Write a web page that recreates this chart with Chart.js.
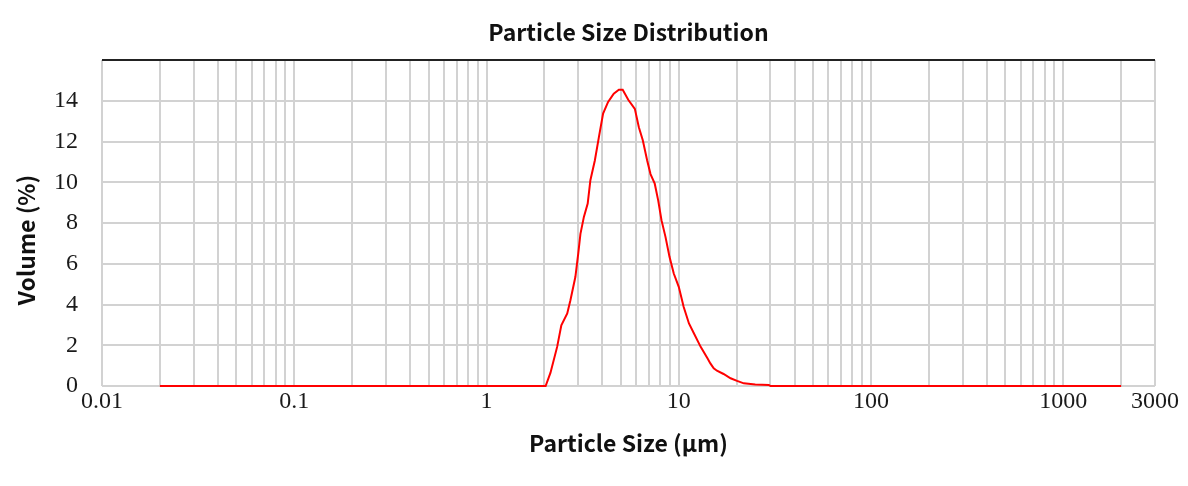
<!DOCTYPE html>
<html>
<head>
<meta charset="utf-8">
<script src="https://cdn.jsdelivr.net/npm/chart.js@4.4.1/dist/chart.umd.min.js"></script>
<style>
  html, body { margin: 0; padding: 0; background: #ffffff; }
  canvas { display: block; }
</style>
</head>
<body>
<canvas id="c" width="1188" height="486"></canvas>
<script>
// ---- data ----
const sizes = [0.02, 2.03, 2.15, 2.33, 2.45, 2.63, 2.73, 2.9, 3.0, 3.08, 3.21, 3.36, 3.47, 3.66, 3.84, 4.04, 4.29, 4.59, 4.88, 5.11, 5.46, 5.91, 6.2, 6.5, 6.85, 7.13, 7.5, 7.82, 8.13, 8.53, 8.95, 9.42, 10.0, 10.6, 11.3, 12.0, 13.0, 14.1, 14.6, 15.2, 15.8, 17.1, 18.6, 20.1, 21.8, 25.0, 29.4, 30.0, 2000];
const volume = [0, 0, 0.64, 1.92, 2.98, 3.56, 4.2, 5.36, 6.5, 7.47, 8.3, 8.95, 10.1, 11.07, 12.2, 13.37, 13.94, 14.35, 14.54, 14.54, 14.05, 13.6, 12.7, 12.06, 11.07, 10.4, 9.93, 9.1, 8.14, 7.32, 6.34, 5.52, 4.87, 3.89, 3.07, 2.58, 1.92, 1.36, 1.11, 0.87, 0.75, 0.59, 0.38, 0.25, 0.13, 0.07, 0.05, 0, 0];
const xGridValues = [0.01, 0.02, 0.03, 0.04, 0.05, 0.06, 0.07, 0.08, 0.09,
                     0.1, 0.2, 0.3, 0.4, 0.5, 0.6, 0.7, 0.8, 0.9,
                     1, 2, 3, 4, 5, 6, 7, 8, 9,
                     10, 20, 30, 40, 50, 60, 70, 80, 90,
                     100, 200, 300, 400, 500, 600, 700, 800, 900,
                     1000, 2000, 3000];
const xTickLabels = [0.01, 0.1, 1, 10, 100, 1000, 3000];
const yTickValues = [0, 2, 4, 6, 8, 10, 12, 14];
const yMax = 16;

const titleText = 'Particle Size Distribution';
const xTitle = 'Particle Size (\u00b5m)';
const yTitle = 'Volume (%)';

const tickFont = { family: '"Liberation Serif", "DejaVu Serif", serif', size: 24 };
const boldFont = { family: '"Noto Sans CJK SC", "Noto Sans", sans-serif', size: 23, weight: 'bold' };

const yTitlePlugin = {
  id: 'yTitle',
  afterDraw(chart) {
    const ctx = chart.ctx;
    ctx.save();
    ctx.translate(26, 240);
    ctx.rotate(-Math.PI / 2);
    ctx.font = 'bold 23px "Noto Sans CJK SC", "Noto Sans", sans-serif';
    ctx.fillStyle = '#111111';
    ctx.textAlign = 'center';
    ctx.textBaseline = 'middle';
    ctx.fillText(yTitle, 0, 0);
    ctx.restore();
  }
};

new Chart(document.getElementById('c'), {
  type: 'line',
  data: {
    datasets: [{
      data: sizes.map((s, i) => ({ x: s, y: volume[i] })),
      borderColor: '#ff0000',
      borderWidth: 2,
      pointRadius: 0,
      tension: 0,
      fill: false,
      clip: false
    }]
  },
  options: {
    responsive: false,
    animation: false,
    devicePixelRatio: 1,
    layout: { padding: { left: 0, right: 33, top: 0, bottom: 0 } },
    plugins: {
      legend: { display: false },
      tooltip: { enabled: false },
      title: {
        display: true,
        text: titleText,
        fullSize: false,
        color: '#111111',
        font: boldFont,
        padding: { top: 18, bottom: 14.4 }
      }
    },
    scales: {
      x: {
        type: 'logarithmic',
        min: 0.01,
        max: 3000,
        afterBuildTicks(scale) {
          scale.ticks = xGridValues.map(v => ({ value: v }));
        },
        afterFit(scale) { scale.height = 100; },
        border: { display: false },
        grid: {
          color: '#d2d2d2',
          lineWidth: 2,
          drawTicks: false
        },
        ticks: {
          autoSkip: false,
          maxRotation: 0,
          minRotation: 0,
          padding: 1,
          color: '#1a1a1a',
          font: tickFont,
          callback(value) {
            return xTickLabels.some(t => Math.abs(t - value) / t < 1e-6) ? String(value) : '';
          }
        },
        title: {
          display: true,
          text: xTitle,
          color: '#111111',
          font: boldFont,
          padding: { top: 4, bottom: 29 }
        }
      },
      y: {
        min: 0,
        max: yMax,
        afterBuildTicks(scale) {
          scale.ticks = yTickValues.concat([yMax]).map(v => ({ value: v }));
        },
        afterFit(scale) { scale.width = 102; },
        border: { display: false },
        grid: {
          color: ctx => (ctx.tick && ctx.tick.value === yMax) ? '#222222' : '#d2d2d2',
          lineWidth: 2,
          drawTicks: false
        },
        ticks: {
          padding: 24,
          color: '#1a1a1a',
          font: tickFont,
          callback(value) { return value === yMax ? '' : String(value); }
        }
      }
    }
  },
  plugins: [yTitlePlugin]
});
</script>
</body>
</html>
